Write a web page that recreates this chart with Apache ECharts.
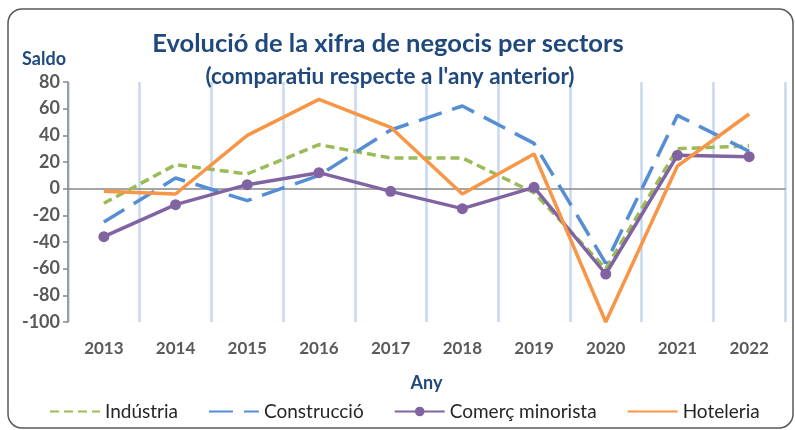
<!DOCTYPE html>
<html>
<head>
<meta charset="utf-8">
<script src="https://cdn.jsdelivr.net/npm/echarts@6/dist/echarts.min.js"></script>
<style>
  html, body { margin: 0; padding: 0; background: #fff; }
  #chart { width: 795px; height: 430px; }
</style>
</head>
<body>
<div id="chart"></div>
<script>
const years = ['2013', '2014', '2015', '2016', '2017', '2018', '2019', '2020', '2021', '2022']
const industria = [-11, 18, 11, 33, 23, 23, -3, -60, 30, 32]
const construccio = [-25, 8, -9, 10, 44, 62, 34, -56, 55, 28]
const comerc = [-36, -12, 3, 12, -2, -15, 1, -64, 25, 24]
const hoteleria = [-2, -4, 40, 67, 46, -4, 26, -100, 17, 56]

const font = 'Lato, "Open Sans", sans-serif'
const titleBlue = '#1f497d'
const gray = '#595959'

const chart = echarts.init(document.getElementById('chart'))

// legend entries; dashed/solid lines carry no marker
const noMarker = { opacity: 0 }

const option = {
  animation: false,
  textStyle: { fontFamily: font },
  graphic: [{
    type: 'rect',
    shape: { x: 8, y: 9, width: 785, height: 419, r: 14 },
    style: { fill: 'none', stroke: '#595959', lineWidth: 1.5 },
    silent: true
  }],
  title: [
    {
      text: 'Evolució de la xifra de negocis per sectors',
      left: 383, top: 26, textAlign: 'center',
      textStyle: { fontFamily: font, fontSize: 25.5, fontWeight: 'bold', color: titleBlue }
    },
    {
      text: "(comparatiu respecte a l'any anterior)",
      left: 385, top: 60, textAlign: 'center',
      textStyle: { fontFamily: font, fontSize: 22.5, fontWeight: 'bold', color: titleBlue }
    }
  ],
  legend: {
    bottom: 4,
    left: 44,
    itemWidth: 50,
    itemHeight: 12,
    itemGap: 30,
    textStyle: { fontFamily: font, fontSize: 19, color: '#262626' },
    data: [
      { name: 'Indústria', itemStyle: noMarker },
      { name: 'Construcció', itemStyle: noMarker },
      { name: 'Comerç minorista' },
      { name: 'Hoteleria', itemStyle: noMarker }
    ]
  },
  grid: { left: 68, right: 10, top: 82, bottom: 108 },
  xAxis: [
    {
      type: 'category',
      data: years,
      axisLine: { onZero: true, lineStyle: { color: '#888', width: 1.5 } },
      axisTick: { alignWithLabel: true, length: 5, lineStyle: { color: '#888', width: 1.5 } },
      axisLabel: { show: false },
      splitLine: { show: true, lineStyle: { color: '#c6d9f0', width: 2.5 } }
    },
    {
      type: 'category',
      data: years,
      position: 'bottom',
      axisLine: { show: false, onZero: false },
      axisTick: { show: false },
      axisLabel: { margin: 18, fontFamily: font, fontSize: 17, fontWeight: 'bold', color: gray },
      name: 'Any',
      nameLocation: 'middle',
      nameGap: 52,
      nameTextStyle: { fontFamily: font, fontSize: 18, fontWeight: 'bold', color: titleBlue }
    }
  ],
  yAxis: {
    type: 'value',
    min: -100, max: 80, interval: 20,
    name: 'Saldo',
    nameGap: 14,
    nameTextStyle: { fontFamily: font, fontSize: 18, fontWeight: 'bold', color: titleBlue, align: 'right', padding: [0, 2, 0, 0] },
    axisLine: { show: true, lineStyle: { color: '#888', width: 1.5 } },
    axisTick: { show: true, length: 5, lineStyle: { color: '#888', width: 1.5 } },
    axisLabel: { margin: 8, fontFamily: font, fontSize: 18, fontWeight: 'bold', color: gray },
    splitLine: { show: false }
  },
  series: [
    {
      name: 'Indústria', type: 'line', data: industria, symbol: 'none',
      itemStyle: { color: '#9bbb59' },
      lineStyle: { color: '#9bbb59', width: 3.5, type: [9, 5] }
    },
    {
      name: 'Construcció', type: 'line', data: construccio, symbol: 'none',
      itemStyle: { color: '#558ed5' },
      lineStyle: { color: '#558ed5', width: 3.5, type: [24, 11] }
    },
    {
      name: 'Comerç minorista', type: 'line', data: comerc, symbol: 'circle', symbolSize: 11,
      itemStyle: { color: '#8064a2' },
      lineStyle: { color: '#8064a2', width: 3.5 }
    },
    {
      name: 'Hoteleria', type: 'line', data: hoteleria, symbol: 'none',
      itemStyle: { color: '#f79646' },
      lineStyle: { color: '#f79646', width: 3.5 }
    }
  ]
}

chart.setOption(option)
</script>
</body>
</html>
